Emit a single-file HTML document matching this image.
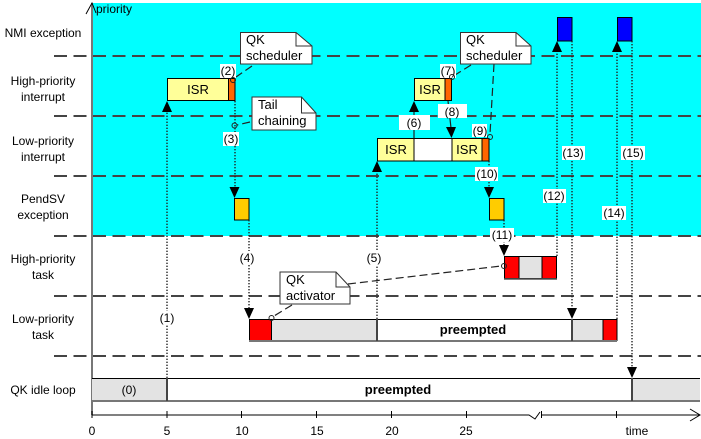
<!DOCTYPE html>
<html><head><meta charset="utf-8"><style>
html,body{margin:0;padding:0;background:#fff;}
svg{display:block;font-family:"Liberation Sans",Arial,sans-serif;}
</style></head><body>
<svg width="701" height="439" viewBox="0 0 701 439" xmlns="http://www.w3.org/2000/svg">
<!-- cyan region -->
<rect x="92" y="3" width="609" height="233" fill="#00FFFF"/>

<!-- row separators -->
<g stroke="#444" stroke-width="2" stroke-dasharray="13,6.5" fill="none">
<line x1="54" y1="56" x2="701" y2="56"/>
<line x1="54" y1="116" x2="701" y2="116"/>
<line x1="54" y1="176" x2="701" y2="176"/>
<line x1="54" y1="236" x2="701" y2="236"/>
<line x1="54" y1="296" x2="701" y2="296"/>
<line x1="54" y1="356" x2="701" y2="356"/>
</g>

<!-- vertical axis -->
<line x1="92" y1="3" x2="92" y2="415" stroke="#777" stroke-width="2"/>
<polyline points="86,14 92,3 96,13" fill="none" stroke="#000" stroke-width="1"/>
<text x="96" y="13" font-size="12">priority</text>

<!-- row labels -->
<g font-size="12" text-anchor="middle" fill="#000">
<text x="43" y="37">NMI exception</text>
<text x="43" y="85">High-priority</text>
<text x="43" y="101">interrupt</text>
<text x="43" y="145">Low-priority</text>
<text x="43" y="161">interrupt</text>
<text x="43" y="203">PendSV</text>
<text x="43" y="219">exception</text>
<text x="43" y="263">High-priority</text>
<text x="43" y="279">task</text>
<text x="43" y="323">Low-priority</text>
<text x="43" y="339">task</text>
<text x="43" y="394">QK idle loop</text>
</g>

<!-- idle loop bar -->
<rect x="92" y="378" width="75" height="23" fill="#E3E3E3"/>
<rect x="167" y="378" width="465" height="23" fill="#fff"/>
<rect x="632" y="378" width="68" height="23" fill="#E3E3E3"/>
<line x1="92" y1="378.5" x2="700" y2="378.5" stroke="#000" stroke-width="1"/>
<line x1="92" y1="401" x2="700" y2="401" stroke="#777" stroke-width="2"/>
<line x1="167" y1="378" x2="167" y2="401" stroke="#444" stroke-width="2"/>
<line x1="632" y1="378" x2="632" y2="401" stroke="#444" stroke-width="2"/>
<text x="129" y="394" font-size="12" text-anchor="middle">(0)</text>
<text x="398" y="394" font-size="13" font-weight="bold" text-anchor="middle">preempted</text>

<!-- time axis -->
<g stroke="#000" stroke-width="1" fill="none">
<polyline points="92,415 529,415 535,419 540,412"/>
<line x1="541" y1="415" x2="699" y2="415"/>
<line x1="541.5" y1="411" x2="541.5" y2="418"/>
<polyline points="690,409 700,415 690,421"/>
<line x1="92" y1="411" x2="92" y2="418"/>
<line x1="167" y1="411" x2="167" y2="418"/>
<line x1="241.5" y1="411" x2="241.5" y2="418"/>
<line x1="316.5" y1="411" x2="316.5" y2="418"/>
<line x1="391.5" y1="411" x2="391.5" y2="418"/>
<line x1="466.5" y1="411" x2="466.5" y2="418"/>
<line x1="616.5" y1="411" x2="616.5" y2="418"/>
</g>
<g font-size="12" text-anchor="middle">
<text x="92" y="435">0</text>
<text x="167" y="435">5</text>
<text x="242" y="435">10</text>
<text x="317" y="435">15</text>
<text x="392" y="435">20</text>
<text x="466" y="435">25</text>
<text x="637" y="435">time</text>
</g>

<!-- low-priority task bar -->
<rect x="249.5" y="319.5" width="22" height="21" fill="#FF0000" stroke="#000"/>
<rect x="271.5" y="319.5" width="105.5" height="21" fill="#E3E3E3" stroke="#000"/>
<rect x="377" y="319.5" width="195" height="21" fill="#fff" stroke="#000"/>
<rect x="572" y="319.5" width="31" height="21" fill="#E3E3E3" stroke="#000"/>
<rect x="603" y="319.5" width="14" height="21" fill="#FF0000" stroke="#000"/>
<line x1="249" y1="341" x2="617" y2="341" stroke="#777" stroke-width="2"/>
<line x1="377" y1="319" x2="377" y2="341" stroke="#444" stroke-width="2"/>
<line x1="572" y1="319" x2="572" y2="341" stroke="#444" stroke-width="2"/>
<text x="473" y="334" font-size="13" font-weight="bold" text-anchor="middle">preempted</text>

<!-- high-priority task bar -->
<rect x="504.5" y="256.5" width="14.5" height="22" fill="#FF0000" stroke="#000"/>
<rect x="519" y="256.5" width="23" height="22" fill="#E3E3E3" stroke="#000"/>
<rect x="542" y="256.5" width="14.5" height="22" fill="#FF0000" stroke="#000"/>
<line x1="504" y1="279" x2="557" y2="279" stroke="#555" stroke-width="1.5"/>

<!-- PendSV boxes -->
<rect x="234.5" y="198.5" width="14.5" height="21.5" fill="#FFCC00" stroke="#000"/>
<rect x="489.5" y="198.5" width="14.5" height="21.5" fill="#FFCC00" stroke="#000"/>

<!-- NMI boxes -->
<rect x="557.5" y="17.5" width="14.5" height="23.5" fill="#0000FF" stroke="#000"/>
<rect x="617.5" y="17.5" width="14.5" height="23.5" fill="#0000FF" stroke="#000"/>

<!-- high-priority ISRs -->
<rect x="167.5" y="78.5" width="61" height="22" fill="#FFFF99" stroke="#000"/>
<rect x="228.5" y="78.5" width="6.5" height="22" fill="#FF6600" stroke="#000"/>
<text x="198" y="94" font-size="13" text-anchor="middle">ISR</text>
<rect x="414.5" y="78.5" width="30.5" height="22" fill="#FFFF99" stroke="#000"/>
<rect x="445" y="78.5" width="6.5" height="22" fill="#FF6600" stroke="#000"/>
<text x="430" y="94" font-size="13" text-anchor="middle">ISR</text>

<!-- low-priority interrupt bar -->
<rect x="377.5" y="138.5" width="36.5" height="22.5" fill="#FFFF99" stroke="#000"/>
<rect x="414" y="138.5" width="38" height="22.5" fill="#fff" stroke="#000"/>
<rect x="452" y="138.5" width="30" height="22.5" fill="#FFFF99" stroke="#000"/>
<rect x="482" y="138.5" width="7" height="22.5" fill="#FF6600" stroke="#000"/>
<text x="396" y="154" font-size="13" text-anchor="middle">ISR</text>
<text x="467" y="154" font-size="13" text-anchor="middle">ISR</text>

<!-- dotted arrows -->
<g stroke="#222" stroke-width="1.4" stroke-dasharray="1.4,1.6" fill="none">
<line x1="167" y1="378" x2="167" y2="112"/>
<line x1="235" y1="101" x2="235" y2="188"/>
<line x1="249" y1="220" x2="249" y2="309"/>
<line x1="377" y1="319" x2="377" y2="172"/>
<line x1="489" y1="161" x2="489" y2="188"/>
<line x1="504" y1="220" x2="504" y2="247"/>
<line x1="557" y1="256" x2="557" y2="52"/>
<line x1="572" y1="41" x2="572" y2="309"/>
<line x1="617" y1="319" x2="617" y2="52"/>
<line x1="632" y1="41" x2="632" y2="368"/>
</g>
<!-- solid arrows 6, 8 -->
<line x1="414" y1="138" x2="414" y2="110" stroke="#222" stroke-width="1.2"/>
<line x1="448" y1="101" x2="451" y2="128" stroke="#222" stroke-width="1.2"/>

<!-- arrowheads -->
<g fill="#000">
<polygon points="162,112 172,112 167,101"/>
<polygon points="229.5,187 239.5,187 234.5,198"/>
<polygon points="244,308 254,308 249,319"/>
<polygon points="372,172 382,172 377,161"/>
<polygon points="484,187 494,187 489,198"/>
<polygon points="499,245 509,245 504,256"/>
<polygon points="552,52 562,52 557,41"/>
<polygon points="567,308 577,308 572,319"/>
<polygon points="612,52 622,52 617,41"/>
<polygon points="627,367 637,367 632,378"/>
<polygon points="409,112 419,112 414,101"/>
<polygon points="446,127 456,127 451.5,138"/>
</g>

<!-- note connector lines -->
<g stroke="#222" stroke-width="1.2" fill="none" stroke-dasharray="8,4">
<line x1="252" y1="66" x2="236" y2="77"/>
<line x1="250" y1="122" x2="237" y2="125"/>
<line x1="471" y1="65" x2="455" y2="75"/>
<line x1="494" y1="64" x2="490" y2="134"/>
<line x1="292" y1="305" x2="274" y2="316"/>
<line x1="348" y1="284" x2="501" y2="266"/>
</g>

<!-- labels with white bg -->
<g font-size="12" text-anchor="middle">
<rect x="220" y="64" width="16" height="14" fill="#fff"/><text x="228" y="75">(2)</text>
<rect x="223" y="132" width="16" height="14" fill="#fff"/><text x="231" y="143">(3)</text>
<rect x="159" y="311" width="16" height="14" fill="#fff"/><text x="167" y="322">(1)</text>
<rect x="239" y="251" width="16" height="14" fill="#fff"/><text x="247" y="262">(4)</text>
<rect x="366" y="251" width="16" height="14" fill="#fff"/><text x="374" y="262">(5)</text>
<rect x="399" y="115" width="31" height="15" fill="#fff"/><text x="414" y="127">(6)</text>
<rect x="440" y="64" width="16" height="14" fill="#fff"/><text x="448" y="75">(7)</text>
<rect x="438" y="104" width="29" height="14" fill="#fff"/><text x="452" y="116">(8)</text>
<rect x="472" y="124" width="15" height="13" fill="#fff"/><text x="480" y="135">(9)</text>
<rect x="475" y="167" width="23" height="14" fill="#fff"/><text x="487" y="178">(10)</text>
<rect x="490" y="228" width="24" height="14" fill="#fff"/><text x="502" y="239">(11)</text>
<rect x="543" y="189" width="23" height="14" fill="#fff"/><text x="554" y="200">(12)</text>
<rect x="562" y="146" width="23" height="14" fill="#fff"/><text x="573" y="157">(13)</text>
<rect x="602" y="206" width="24" height="14" fill="#fff"/><text x="614" y="217">(14)</text>
<rect x="621" y="146" width="24" height="14" fill="#fff"/><text x="633" y="157">(15)</text>
</g>

<!-- small circles -->
<g fill="none" stroke="#222" stroke-width="1">
<circle cx="233" cy="80" r="2.5"/>
<circle cx="234.5" cy="125.5" r="2.5"/>
<circle cx="452" cy="77" r="2.5"/>
<circle cx="490" cy="137" r="2.5"/>
<circle cx="271.5" cy="318" r="2.5"/>
<circle cx="504" cy="266" r="2.5"/>
</g>

<!-- notes -->
<g stroke="#333" stroke-width="1" fill="#fff">
<polygon points="240.5,32.5 296,32.5 312,46 312,64 240.5,64"/>
<polyline points="296,32.5 296,46 312,46" fill="none"/>
<polygon points="252,97 301.5,97 316,113 316,130 252,130"/>
<polyline points="301.5,97 301.5,113 316,113" fill="none"/>
<polygon points="460.5,32.5 516,32.5 531,46 531,64 460.5,64"/>
<polyline points="516,32.5 516,46 531,46" fill="none"/>
<polygon points="280,272 336,272 350,287 350,304 280,304"/>
<polyline points="336,272 336,287 350,287" fill="none"/>
</g>
<g font-size="13" fill="#000">
<text x="246" y="44">QK</text><text x="246" y="60">scheduler</text>
<text x="258" y="109">Tail</text><text x="258" y="125">chaining</text>
<text x="466" y="44">QK</text><text x="466" y="60">scheduler</text>
<text x="286" y="284">QK</text><text x="286" y="300">activator</text>
</g>
</svg>
</body></html>
